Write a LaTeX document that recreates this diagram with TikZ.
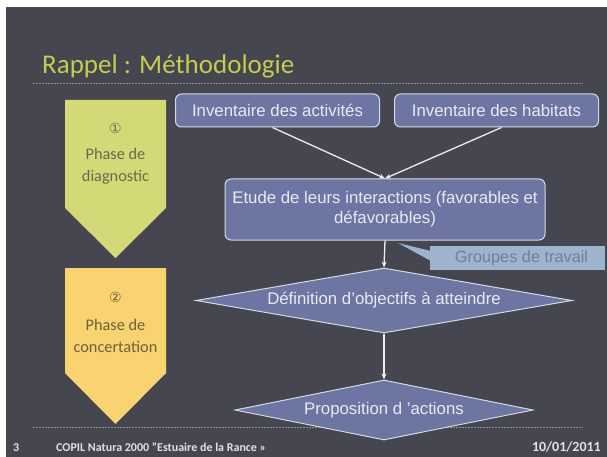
\documentclass[tikz,border=0pt]{standalone}
\usepackage{fontspec}
\setmainfont{Carlito}
\newfontfamily\arialf{Liberation Sans}
\newfontfamily\symf{DejaVu Sans}
\usetikzlibrary{shapes.geometric,arrows.meta}
\definecolor{bg}{RGB}{69,70,80}
\definecolor{titlecol}{RGB}{197,204,80}
\definecolor{ygreen}{RGB}{211,217,118}
\definecolor{orangey}{RGB}{248,211,112}
\definecolor{phasetxt}{RGB}{105,105,80}
\definecolor{phasetxtb}{RGB}{110,95,65}
\definecolor{boxfill}{RGB}{109,117,163}
\definecolor{boxline}{RGB}{214,218,230}
\definecolor{boxtext}{RGB}{232,234,242}
\definecolor{callfill}{RGB}{158,180,204}
\definecolor{calltext}{RGB}{108,128,160}
\definecolor{dotcol}{RGB}{140,142,150}
\definecolor{footcol}{RGB}{225,225,228}
\definecolor{arrowcol}{RGB}{235,235,242}
\tikzset{
  boxnode/.style={draw=boxline, fill=boxfill, rounded corners=6pt, line width=1pt,
    text=boxtext, font=\arialf\fontsize{16.8}{20}\selectfont, inner sep=0pt, align=center},
  dianode/.style={diamond, draw=boxline, fill=boxfill, line width=1pt, aspect=5.8,
    text=boxtext, font=\arialf\fontsize{16.8}{20}\selectfont, inner sep=0pt},
  flowarrow/.style={draw=arrowcol, line width=1.3pt, -{Stealth[length=6pt,width=5pt]}},
  phasetext/.style={font=\fontsize{16.3}{22}\selectfont, inner sep=0pt, align=center},
  numtext/.style={font=\symf\fontsize{14}{16}\selectfont, inner sep=0pt},
  sepline/.style={draw=dotcol, line width=0.6pt, dash pattern=on 1.5pt off 1.5pt},
  footnode/.style={font=\bfseries\fontsize{12}{14}\selectfont, text=footcol, inner sep=0pt, anchor=base west},
  callnode/.style={fill=callfill, text=calltext, font=\arialf\fontsize{16.3}{19}\selectfont,
    minimum width=175pt, minimum height=24pt, inner sep=0pt}
}
\begin{document}
\begin{tikzpicture}[x=1pt,y=-1pt]
\useasboundingbox (0,0) rectangle (607,457);
\fill[white] (0,0) rectangle (607,457);
\fill[bg] (6,7) rectangle (607,457);

% title
\node[font=\fontsize{27}{32}\selectfont, text=titlecol, anchor=base west, inner sep=0pt] (title) at (42,74) {Rappel : Méthodologie};
\draw[sepline] (33,83) -- (583,83);
\draw[sepline] (33,427) -- (583,427);

% phase arrows
\fill[ygreen] (65,100) -- (166,100) -- (166,208) -- (115.5,258) -- (65,208) -- cycle;
\fill[orangey] (65,268) -- (166,268) -- (166,373) -- (115.5,424) -- (65,373) -- cycle;
\node[numtext, text=phasetxt] (n1) at (115.5,128) {①};
\node[phasetext, text=phasetxt] (p1) at (115.5,166) {Phase de\\diagnostic};
\node[numtext, text=phasetxtb] (n2) at (115.5,297) {②};
\node[phasetext, text=phasetxtb] (p2) at (115.5,336) {Phase de\\concertation};

% flow boxes
\node[boxnode, minimum width=204pt, minimum height=33pt] (A) at (277.5,110.5) {Inventaire des activités};
\node[boxnode, minimum width=204pt, minimum height=33pt] (B) at (496.5,110.5) {Inventaire des habitats};
\node[boxnode, minimum width=320pt, minimum height=61pt] (C) at (385,209.5) {Etude de leurs interactions (favorables et\\défavorables)};
\node[dianode, minimum width=376pt, minimum height=65pt] (D) at (384,300.5) {Définition d’objectifs à atteindre};
\node[dianode, minimum width=298pt, minimum height=60pt] (E) at (384,410) {Proposition d ’actions};

% callout
\fill[callfill] (398,243) -- (431,251) -- (431,261) -- cycle;
\node[callnode] (G) at (517.5,258) {\hspace*{8pt}Groupes de travail};

% connectors
\draw[flowarrow] ([xshift=-5pt]A.south) -- (C.north);
\draw[flowarrow] ([xshift=5pt]B.south) -- (C.north);
\draw[flowarrow] (C.south) -- (D.north);
\draw[flowarrow] (D.south) -- (E.north);

% footer
\node[footnode] (f1) at (13,451) {3};
\node[footnode] (f2) at (56,451) {COPIL Natura 2000 "Estuaire de la Rance »};
\node[footnode, font=\bfseries\fontsize{14}{16}\selectfont, anchor=base east] (f3) at (601,451) {10/01/2011};
\end{tikzpicture}
\end{document}
